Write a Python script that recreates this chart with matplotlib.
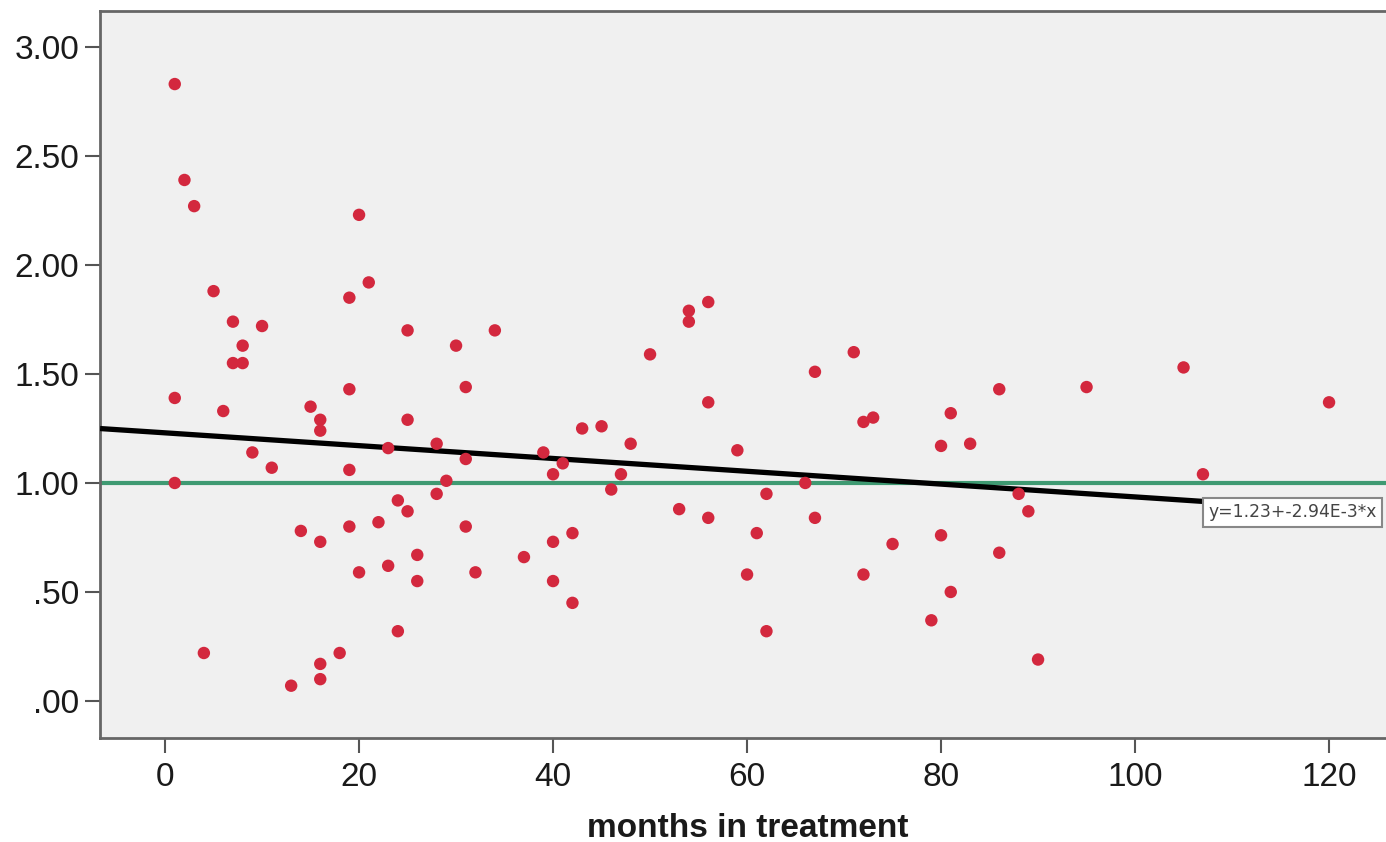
import matplotlib.pyplot as plt
from matplotlib.ticker import FixedLocator, FuncFormatter

# months in treatment vs. ratio, one dot per patient
months = [1, 2, 3, 5, 7, 10, 8, 7, 8, 1, 6, 1, 4, 9, 11, 13, 14, 15, 16, 16,
          16, 16, 16, 18, 19, 19, 20, 19, 19, 20, 21, 22, 23, 23, 24, 24, 25, 25,
          25, 26, 26, 28, 28, 29, 30, 31, 31, 31, 32, 34, 37, 39, 40, 40, 40, 41,
          42, 42, 43, 45, 46, 47, 48, 50, 53, 54, 54, 56, 56, 56, 59, 60, 61, 62,
          62, 66, 67, 67, 71, 72, 73, 72, 75, 79, 80, 80, 81, 81, 83, 86, 86, 88,
          89, 90, 95, 105, 107, 120]
values = [2.83, 2.39, 2.27, 1.88, 1.74, 1.72, 1.63, 1.55, 1.55, 1.39, 1.33, 1.00,
          0.22, 1.14, 1.07, 0.07, 0.78, 1.35, 1.29, 1.24, 0.73, 0.17, 0.10, 0.22,
          1.06, 0.80, 0.59, 1.43, 1.85, 2.23, 1.92, 0.82, 0.62, 1.16, 0.32, 0.92,
          0.87, 1.70, 1.29, 0.67, 0.55, 1.18, 0.95, 1.01, 1.63, 1.44, 1.11, 0.80,
          0.59, 1.70, 0.66, 1.14, 1.04, 0.73, 0.55, 1.09, 0.77, 0.45, 1.25, 1.26,
          0.97, 1.04, 1.18, 1.59, 0.88, 1.79, 1.74, 1.83, 1.37, 0.84, 1.15, 0.58,
          0.77, 0.95, 0.32, 1.00, 1.51, 0.84, 1.60, 1.28, 1.30, 0.58, 0.72, 0.37,
          1.17, 0.76, 1.32, 0.50, 1.18, 1.43, 0.68, 0.95, 0.87, 0.19, 1.44, 1.53,
          1.04, 1.37]

# linear fit shown in the label
intercept = 1.23
slope = -2.94e-3
fit_label = "y=1.23+-2.94E-3*x"
fit_end = 107
reference = 1.00

x_ticks = [0, 20, 40, 60, 80, 100, 120]
y_ticks = [0.0, 0.5, 1.0, 1.5, 2.0, 2.5, 3.0]
x_min, x_max = -6.7, 126.9
y_min, y_max = -0.17, 3.165

plt.rcParams["font.family"] = ["Liberation Sans", "DejaVu Sans"]

fig = plt.figure(figsize=(13.86, 8.42), dpi=100)
ax = fig.add_axes([0.0722, 0.1235, 0.935, 0.8634])
ax.set_facecolor("#f0f0f0")

ax.axhline(reference, color="#3f9a72", lw=3, zorder=2)

fx = [x_min, fit_end]
fy = [intercept + slope * v for v in fx]
ax.plot(fx, fy, color="black", lw=3.8, solid_capstyle="butt", zorder=3)

ax.scatter(months, values, s=80, color="#d3283e", edgecolors="none", zorder=4)

ax.annotate(fit_label, (fit_end, fy[1]), xytext=(4, -1.5), textcoords="offset points",
            ha="left", va="top", fontsize=12.3, family="DejaVu Sans",
            color="#444444", zorder=5,
            bbox=dict(boxstyle="square,pad=0.3", fc="white", ec="#888888", lw=1.5))

ax.set_xlim(x_min, x_max)
ax.set_ylim(y_min, y_max)
ax.xaxis.set_major_locator(FixedLocator(x_ticks))
ax.yaxis.set_major_locator(FixedLocator(y_ticks))


def spss_fmt(v, pos):
    s = f"{v:.2f}"
    return s[1:] if s.startswith("0") else s


ax.yaxis.set_major_formatter(FuncFormatter(spss_fmt))
ax.tick_params(axis="both", direction="out", length=11, width=1.5,
               color="#555555", labelsize=24, labelcolor="#1a1a1a", pad=4)
ax.tick_params(axis="x", pad=6)

for side in ("left", "bottom", "top", "right"):
    ax.spines[side].set_color("#666666")
    ax.spines[side].set_linewidth(2)

ax.set_xlabel("months in treatment", fontsize=24, fontweight="bold",
              color="#1a1a1a", labelpad=15)

fig.savefig("out.png", dpi=100)
